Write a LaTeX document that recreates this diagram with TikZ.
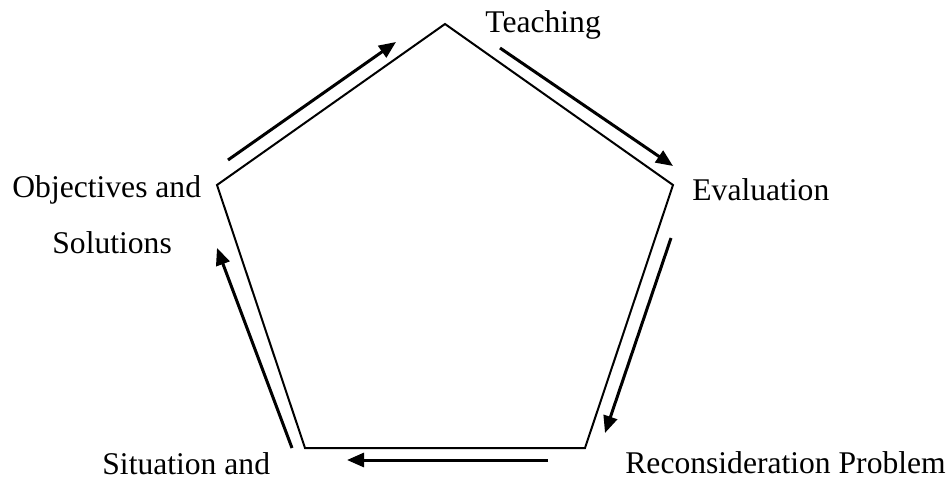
\documentclass[tikz,border=0pt]{standalone}
\usepackage{fontspec}
\setmainfont{Liberation Serif}
\usetikzlibrary{arrows.meta}
\begin{document}
\begin{tikzpicture}[x=0.5pt,y=-0.5pt,
  cyclearrow/.style={line width=1.5pt,-{Triangle[length=8.5pt,width=7pt]}},
  steplabel/.style={anchor=base west,inner sep=0pt,font=\fontsize{15.8}{18}\selectfont}]
\useasboundingbox (0,0) rectangle (948,481);
% corners of the pentagon
\coordinate (teach) at (445,24);
\coordinate (eval) at (673,185);
\coordinate (recon) at (585,448);
\coordinate (situ) at (305,448);
\coordinate (obj) at (217,185);
\draw[line width=1pt] (teach) -- (eval) -- (recon) -- (situ) -- (obj) -- cycle;

% labels
\node[steplabel] (teachLabel) at (485,33) {Teaching};
\node[steplabel] (evalLabel) at (692,200) {Evaluation};
\node[steplabel] (reconLabel) at (625,473) {Reconsideration Problem};
\node[steplabel] (situLabel) at (102,474) {Situation and};
\node[steplabel] (objLabel) at (12,198) {Objectives and};
\node[steplabel] (solLabel) at (52,253) {Solutions};

% arrows along the sides
\coordinate (objOut) at (228,160);  \coordinate (teachIn) at (396,42);
\coordinate (teachOut) at (500,48); \coordinate (evalIn) at (673,166);
\coordinate (evalOut) at (671,238); \coordinate (reconIn) at (605,433);
\coordinate (reconOut) at (548,460); \coordinate (situIn) at (347,460);
\coordinate (situOut) at (292,448); \coordinate (objIn) at (217,248);
\draw[cyclearrow] (objOut) -- (teachIn);
\draw[cyclearrow] (teachOut) -- (evalIn);
\draw[cyclearrow] (evalOut) -- (reconIn);
\draw[cyclearrow] (reconOut) -- (situIn);
\draw[cyclearrow] (situOut) -- (objIn);
\end{tikzpicture}
\end{document}
